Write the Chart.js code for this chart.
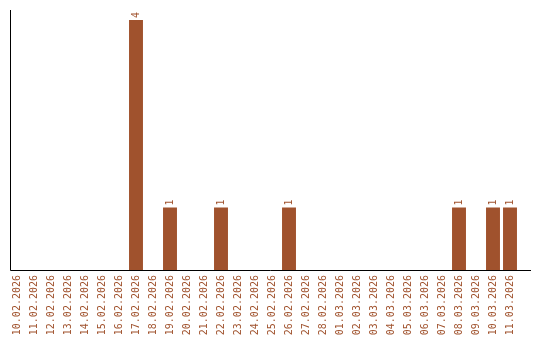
<!DOCTYPE html>
<html>
<head>
<meta charset="utf-8">
<script src="https://cdn.jsdelivr.net/npm/chart.js@4"></script>
<style>
  html, body { margin: 0; padding: 0; background: #fff; }
  #chart { display: block; }
</style>
</head>
<body>
<canvas id="chart" width="540" height="340"></canvas>
<script>
// Chart data
const dates = [
  '10.02.2026', '11.02.2026', '12.02.2026', '13.02.2026', '14.02.2026',
  '15.02.2026', '16.02.2026', '17.02.2026', '18.02.2026', '19.02.2026',
  '20.02.2026', '21.02.2026', '22.02.2026', '23.02.2026', '24.02.2026',
  '25.02.2026', '26.02.2026', '27.02.2026', '28.02.2026', '01.03.2026',
  '02.03.2026', '03.03.2026', '04.03.2026', '05.03.2026', '06.03.2026',
  '07.03.2026', '08.03.2026', '09.03.2026', '10.03.2026', '11.03.2026'
];
const counts = [
  0, 0, 0, 0, 0, 0, 0, 4, 0, 1,
  0, 0, 1, 0, 0, 0, 1, 0, 0, 0,
  0, 0, 0, 0, 0, 0, 1, 0, 1, 1
];

const brown = '#A0522D';
const monoFont = { family: '"DejaVu Sans Mono", monospace', size: 10 };

// axis lines drawn a bit past the plot area, like the original
const axisLines = {
  id: 'axisLines',
  afterDraw(chart) {
    const c = chart.ctx;
    const { left, bottom } = chart.chartArea;
    c.save();
    c.strokeStyle = '#000';
    c.lineWidth = 1;
    c.beginPath();
    c.moveTo(10.5, 10);
    c.lineTo(10.5, bottom + 0.5);
    c.lineTo(531, bottom + 0.5);
    c.stroke();
    c.restore();
  }
};

// value labels above non-zero bars, rotated
const valueLabels = {
  id: 'valueLabels',
  afterDatasetsDraw(chart) {
    const c = chart.ctx;
    const meta = chart.getDatasetMeta(0);
    c.save();
    c.fillStyle = brown;
    c.font = '10px ' + monoFont.family;
    c.textAlign = 'left';
    c.textBaseline = 'middle';
    meta.data.forEach((bar, i) => {
      if (!counts[i]) return;
      c.save();
      c.translate(bar.x, bar.y - 2);
      c.rotate(-Math.PI / 2);
      c.fillText(String(counts[i]), 0, 0);
      c.restore();
    });
    c.restore();
  }
};

document.addEventListener('DOMContentLoaded', () => {
  const ctx = document.getElementById('chart');
  new Chart(ctx.getContext('2d'), {
    type: 'bar',
    data: {
      labels: dates,
      datasets: [{
        data: counts,
        backgroundColor: brown,
        borderWidth: 0,
        barPercentage: 1,
        categoryPercentage: 0.82
      }]
    },
    options: {
      responsive: false,
      animation: false,
      layout: { padding: { left: 8.5, right: 21.5, top: 20, bottom: 0 } },
      plugins: {
        legend: { display: false },
        tooltip: { enabled: false }
      },
      scales: {
        x: {
          grid: { display: false, drawTicks: false },
          border: { display: false },
          ticks: {
            color: brown,
            font: monoFont,
            autoSkip: false,
            minRotation: 90,
            maxRotation: 90,
            padding: 5
          },
          afterFit(scale) { scale.height = 70; }
        },
        y: {
          display: false,
          min: 0,
          max: 4
        }
      }
    },
    plugins: [axisLines, valueLabels]
  });
});
</script>
</body>
</html>
